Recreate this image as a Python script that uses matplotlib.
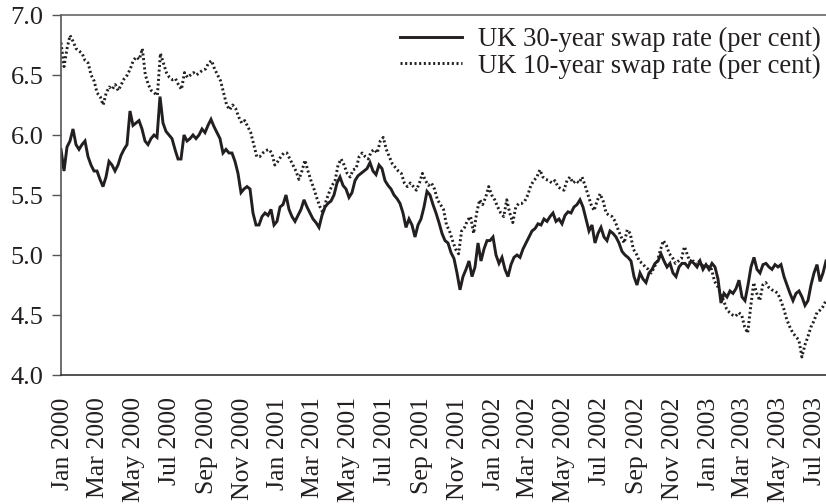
import numpy as np
import pandas as pd
import matplotlib
matplotlib.use("Agg")
import matplotlib.pyplot as plt
import matplotlib.dates as mdates

# Period covered by the (regularly sampled) series
start_date = "1999-12-29"
end_date = "2003-07-19"

# UK 30-year swap rate (per cent) at regular intervals
swap30 = [
    5.88, 5.70, 5.90, 5.95, 6.05, 5.92, 5.88, 5.92, 5.95, 5.82,
    5.75, 5.70, 5.70, 5.63, 5.57, 5.65, 5.78, 5.75, 5.70, 5.75,
    5.83, 5.88, 5.92, 6.20, 6.08, 6.10, 6.12, 6.05, 5.95, 5.92,
    5.97, 6.00, 5.98, 6.32, 6.10, 6.03, 6.00, 5.97, 5.88, 5.80,
    5.80, 6.00, 5.95, 5.97, 6.00, 5.97, 6.00, 6.05, 6.02, 6.08,
    6.13, 6.07, 6.02, 5.97, 5.85, 5.88, 5.85, 5.85, 5.78, 5.68,
    5.52, 5.55, 5.57, 5.55, 5.35, 5.25, 5.25, 5.32, 5.35, 5.33,
    5.38, 5.25, 5.28, 5.40, 5.42, 5.50, 5.38, 5.32, 5.28, 5.33,
    5.38, 5.46, 5.40, 5.35, 5.30, 5.27, 5.23, 5.33, 5.40, 5.43,
    5.45, 5.50, 5.60, 5.65, 5.58, 5.55, 5.48, 5.52, 5.62, 5.66,
    5.68, 5.70, 5.72, 5.77, 5.70, 5.67, 5.75, 5.72, 5.62, 5.58,
    5.55, 5.50, 5.47, 5.43, 5.35, 5.23, 5.30, 5.25, 5.15, 5.25,
    5.30, 5.40, 5.53, 5.50, 5.42, 5.35, 5.27, 5.18, 5.12, 5.10,
    5.02, 4.97, 4.85, 4.71, 4.82, 4.88, 4.95, 4.82, 4.90, 5.10,
    4.95, 5.05, 5.12, 5.12, 5.15, 5.00, 4.93, 4.98, 4.88, 4.82,
    4.92, 4.98, 5.00, 4.98, 5.05, 5.10, 5.15, 5.20, 5.22, 5.26,
    5.25, 5.30, 5.28, 5.32, 5.35, 5.28, 5.30, 5.26, 5.33, 5.36,
    5.35, 5.40, 5.42, 5.46, 5.40, 5.30, 5.20, 5.25, 5.10, 5.18,
    5.23, 5.15, 5.12, 5.20, 5.18, 5.15, 5.10, 5.03, 5.00, 4.98,
    4.95, 4.82, 4.75, 4.85, 4.80, 4.77, 4.85, 4.88, 4.93, 4.95,
    5.01, 4.95, 4.90, 4.93, 4.85, 4.82, 4.90, 4.93, 4.93, 4.90,
    4.95, 4.93, 4.90, 4.95, 4.88, 4.92, 4.88, 4.93, 4.90, 4.80,
    4.60, 4.68, 4.65, 4.70, 4.68, 4.72, 4.79, 4.65, 4.62, 4.75,
    4.90, 4.98, 4.88, 4.85, 4.92, 4.93, 4.90, 4.88, 4.92, 4.90,
    4.92, 4.82, 4.75, 4.68, 4.62, 4.68, 4.70, 4.65, 4.58, 4.62,
    4.75, 4.85, 4.92, 4.78, 4.85, 4.95,
]

# UK 10-year swap rate (per cent)
swap10 = [
    6.77, 6.57, 6.72, 6.83, 6.78, 6.72, 6.70, 6.68, 6.62, 6.60,
    6.50, 6.45, 6.35, 6.32, 6.25, 6.35, 6.40, 6.38, 6.42, 6.37,
    6.42, 6.47, 6.50, 6.55, 6.62, 6.65, 6.63, 6.72, 6.50, 6.42,
    6.37, 6.35, 6.33, 6.68, 6.60, 6.52, 6.48, 6.46, 6.47, 6.42,
    6.38, 6.52, 6.48, 6.50, 6.52, 6.50, 6.52, 6.54, 6.55, 6.60,
    6.62, 6.55, 6.50, 6.45, 6.35, 6.25, 6.21, 6.25, 6.22, 6.15,
    6.10, 6.12, 6.07, 6.02, 5.92, 5.82, 5.82, 5.85, 5.87, 5.88,
    5.85, 5.75, 5.78, 5.82, 5.85, 5.85, 5.80, 5.75, 5.70, 5.63,
    5.70, 5.79, 5.70, 5.62, 5.55, 5.47, 5.40, 5.35, 5.45, 5.52,
    5.58, 5.62, 5.75, 5.80, 5.75, 5.68, 5.65, 5.71, 5.72, 5.82,
    5.85, 5.82, 5.80, 5.86, 5.88, 5.85, 5.95, 5.98, 5.88, 5.82,
    5.76, 5.73, 5.70, 5.68, 5.60, 5.57, 5.60, 5.57, 5.54, 5.60,
    5.68, 5.62, 5.58, 5.60, 5.55, 5.46, 5.42, 5.38, 5.25, 5.20,
    5.12, 5.05, 5.01, 5.20, 5.23, 5.29, 5.32, 5.18, 5.35, 5.46,
    5.42, 5.48, 5.57, 5.50, 5.46, 5.40, 5.35, 5.32, 5.46, 5.35,
    5.27, 5.40, 5.43, 5.43, 5.45, 5.50, 5.58, 5.62, 5.65, 5.71,
    5.65, 5.63, 5.62, 5.60, 5.62, 5.57, 5.55, 5.54, 5.62, 5.65,
    5.60, 5.62, 5.60, 5.65, 5.58, 5.50, 5.42, 5.37, 5.45, 5.51,
    5.45, 5.35, 5.33, 5.32, 5.28, 5.21, 5.15, 5.10, 5.21, 5.18,
    5.05, 5.01, 4.95, 4.93, 4.90, 4.88, 4.85, 4.90, 4.95, 5.04,
    5.12, 5.08, 5.01, 4.98, 4.93, 4.95, 4.97, 5.07, 5.00, 4.93,
    4.95, 4.92, 4.95, 4.90, 4.92, 4.90, 4.88, 4.78, 4.74, 4.68,
    4.62, 4.55, 4.52, 4.50, 4.49, 4.52, 4.50, 4.40, 4.35, 4.57,
    4.77, 4.68, 4.62, 4.75, 4.77, 4.73, 4.71, 4.70, 4.68, 4.62,
    4.55, 4.46, 4.40, 4.35, 4.32, 4.29, 4.15, 4.25, 4.32, 4.40,
    4.45, 4.52, 4.54, 4.57, 4.62,
]

series_labels = ["UK 30-year swap rate (per cent)", "UK 10-year swap rate (per cent)"]
y_ticks = [4.0, 4.5, 5.0, 5.5, 6.0, 6.5, 7.0]

plt.rcParams["font.family"] = ["Liberation Serif", "DejaVu Serif"]

ink = "#231f20"
dates30 = pd.date_range(start_date, end_date, periods=len(swap30))
dates10 = pd.date_range(start_date, end_date, periods=len(swap10))

W, H = 826, 504
fig = plt.figure(figsize=(W / 100, H / 100), dpi=100)
ax = fig.add_axes([61 / W, 1 - 375 / H, 1 - 61 / W, (375 - 15) / H])

ax.plot(dates30, swap30, color=ink, lw=2.1, solid_joinstyle="miter",
        label=series_labels[0])
ax.plot(dates10, swap10, color=ink, lw=2.1, linestyle=(0, (0.7, 0.9)),
        label=series_labels[1])

ax.set_xlim(pd.Timestamp(start_date), pd.Timestamp(end_date))
ax.set_ylim(4.0, 7.0)
ax.set_yticks(y_ticks)
ax.set_yticklabels([f"{v:.1f}" for v in y_ticks])

ax.xaxis.set_major_locator(mdates.MonthLocator(bymonth=[1, 3, 5, 7, 9, 11]))
ax.xaxis.set_major_formatter(mdates.DateFormatter("%b %Y"))
for lbl in ax.get_xticklabels():
    lbl.set_rotation(90)

ax.tick_params(axis="y", direction="out", length=6.5, width=1, color="#555555",
               labelsize=19, pad=6.0, labelcolor=ink)
ax.tick_params(axis="x", length=0, labelsize=18.5, pad=16, labelcolor=ink)

ax.spines["right"].set_visible(False)
ax.spines["top"].set_color("#666666")
ax.spines["left"].set_color("#555555")
ax.spines["bottom"].set_color("#333333")
for s in ["top", "left", "bottom"]:
    ax.spines[s].set_linewidth(1.2)

leg = ax.legend(loc="upper right", frameon=False, fontsize=19.2,
                handlelength=2.35, handletextpad=0.6, labelspacing=0.05,
                borderaxespad=0.0, borderpad=0.0,
                bbox_to_anchor=(821 / W, 1 - 27 / H),
                bbox_transform=fig.transFigure)
for t in leg.get_texts():
    t.set_color(ink)

fig.savefig("out.png", dpi=100)
